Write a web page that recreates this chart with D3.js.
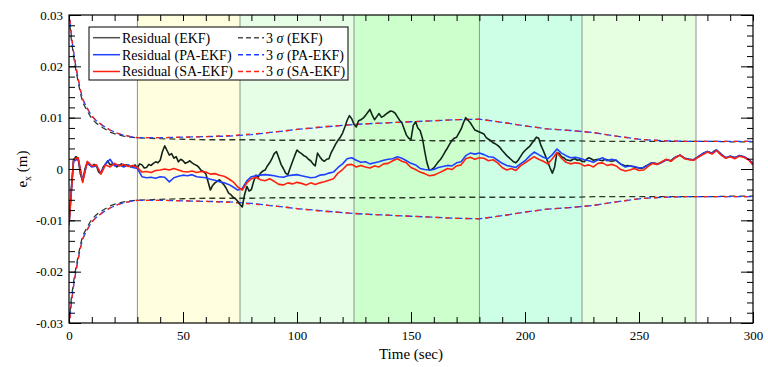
<!DOCTYPE html>
<html>
<head>
<meta charset="utf-8">
<script src="https://cdn.jsdelivr.net/npm/d3@7"></script>
<style>
  html, body { margin: 0; padding: 0; background: #ffffff; }
  svg { display: block; }
  svg text { font-family: "Liberation Serif", "Times New Roman", Times, serif !important; fill: #000; }
</style>
</head>
<body>
<svg id="chart" width="768" height="367"></svg>
<script>
// ---------------- DATA ----------------
const time = d3.range(0, 301, 2);     // seconds, 2 s sampling (adaptive filters)
const timeEKF = d3.range(0, 301, 1);  // seconds, 1 s sampling (EKF)

const residEKF = [
  -0.0108, -0.0040, 0.0017, 0.0024, 0.0021, -0.0010, -0.0024, 0.0000, 0.0013, 0.0008,
  0.0005, 0.0009, 0.0007, -0.0006, -0.0009, 0.0004, 0.0009, 0.0016, 0.0008, 0.0010,
  0.0009, 0.0004, 0.0007, 0.0010, 0.0006, 0.0008, 0.0007, 0.0004, 0.0005, 0.0008,
  0.0002, 0.0010, 0.0008, 0.0002, 0.0003, 0.0009, 0.0007, 0.0011, 0.0014, 0.0012,
  0.0017, 0.0034, 0.0045, 0.0036, 0.0027, 0.0030, 0.0021, 0.0024, 0.0014, 0.0019,
  0.0016, 0.0011, 0.0013, 0.0016, 0.0012, 0.0009, 0.0007, 0.0003, -0.0003, -0.0005,
  -0.0009, -0.0025, -0.0041, -0.0032, -0.0027, -0.0024, -0.0021, -0.0026, -0.0031, -0.0038,
  -0.0047, -0.0050, -0.0055, -0.0058, -0.0063, -0.0069, -0.0074, -0.0050, -0.0034, -0.0043,
  -0.0040, -0.0024, -0.0012, -0.0016, -0.0008, -0.0004, -0.0002, 0.0006, 0.0012, 0.0020,
  0.0030, 0.0034, 0.0022, 0.0009, 0.0001, -0.0008, -0.0011, 0.0002, 0.0014, 0.0026,
  0.0037, 0.0033, 0.0030, 0.0026, 0.0024, 0.0019, 0.0016, 0.0010, 0.0006, 0.0031,
  0.0024, 0.0018, 0.0015, 0.0019, 0.0020, 0.0032, 0.0040, 0.0049, 0.0056, 0.0062,
  0.0070, 0.0082, 0.0095, 0.0104, 0.0098, 0.0087, 0.0082, 0.0094, 0.0096, 0.0099,
  0.0104, 0.0110, 0.0116, 0.0105, 0.0096, 0.0102, 0.0108, 0.0101, 0.0103, 0.0107,
  0.0110, 0.0113, 0.0112, 0.0109, 0.0102, 0.0095, 0.0090, 0.0078, 0.0066, 0.0060,
  0.0058, 0.0085, 0.0092, 0.0080, 0.0075, 0.0060, 0.0035, 0.0012, -0.0002, -0.0001,
  0.0002, 0.0008, 0.0014, 0.0019, 0.0026, 0.0034, 0.0041, 0.0049, 0.0056, 0.0060,
  0.0062, 0.0070, 0.0078, 0.0090, 0.0100, 0.0095, 0.0090, 0.0083, 0.0076, 0.0074,
  0.0072, 0.0070, 0.0068, 0.0061, 0.0058, 0.0055, 0.0051, 0.0049, 0.0046, 0.0042,
  0.0036, 0.0031, 0.0026, 0.0022, 0.0018, 0.0014, 0.0012, 0.0017, 0.0024, 0.0031,
  0.0036, 0.0040, 0.0044, 0.0050, 0.0056, 0.0062, 0.0060, 0.0046, 0.0036, 0.0025,
  0.0014, 0.0002, -0.0008, 0.0004, 0.0032, 0.0030, 0.0024, 0.0022, 0.0018, 0.0017,
  0.0016, 0.0019, 0.0020, 0.0017, 0.0018, 0.0015, 0.0014, 0.0019, 0.0022, 0.0020,
  0.0017, 0.0018, 0.0019, 0.0017, 0.0016, 0.0019, 0.0018, 0.0016, 0.0015, 0.0016,
  0.0017, 0.0013, 0.0010, 0.0008, 0.0006, 0.0007, 0.0006, 0.0005, 0.0004, 0.0003,
  0.0002, 0.0001, 0.0003, 0.0006, 0.0008, 0.0011, 0.0012, 0.0011, 0.0010, 0.0011,
  0.0013, 0.0016, 0.0018, 0.0017, 0.0016, 0.0020, 0.0023, 0.0025, 0.0027, 0.0024,
  0.0021, 0.0020, 0.0019, 0.0018, 0.0018, 0.0021, 0.0024, 0.0027, 0.0030, 0.0032,
  0.0034, 0.0032, 0.0031, 0.0035, 0.0037, 0.0033, 0.0029, 0.0025, 0.0022, 0.0023,
  0.0025, 0.0024, 0.0022, 0.0024, 0.0026, 0.0025, 0.0024, 0.0021, 0.0019, 0.0015,
  0.0010
];

const residPA = [
  -0.0105, 0.0015, 0.0020, -0.0022, 0.0012, 0.0004, 0.0006, -0.0008, 0.0010, 0.0019, 0.0006, 0.0008, 0.0004, 0.0008, 0.0003, 0.0001,
  -0.0015, -0.0017, -0.0016, -0.0018, -0.0015, -0.0016, -0.0025, -0.0017, -0.0014, -0.0012,
  -0.0013, -0.0011, -0.0015, -0.0016, -0.0017, -0.0020, -0.0022, -0.0025, -0.0027, -0.0030,
  -0.0035, -0.0041, -0.0038, -0.0023, -0.0015, -0.0013, -0.0012, -0.0011, -0.0012, -0.0013,
  -0.0015, -0.0016, -0.0013, -0.0012, -0.0011, -0.0013, -0.0015, -0.0017, -0.0016, -0.0012,
  -0.0011, -0.0008, -0.0006, 0.0003, 0.0010, 0.0020, 0.0022, 0.0017, 0.0013, 0.0014,
  0.0010, 0.0012, 0.0014, 0.0017, 0.0019, 0.0020, 0.0024, 0.0021, 0.0016, 0.0011,
  0.0008, 0.0001, -0.0001, -0.0002, -0.0001, 0.0003, 0.0005, 0.0007, 0.0006, 0.0012,
  0.0014, 0.0026, 0.0031, 0.0029, 0.0031, 0.0028, 0.0024, 0.0023, 0.0017, 0.0011,
  0.0007, 0.0005, 0.0003, 0.0010, 0.0016, 0.0025, 0.0033, 0.0028, 0.0023, 0.0020,
  0.0028, 0.0039, 0.0031, 0.0026, 0.0022, 0.0023, 0.0021, 0.0018, 0.0016, 0.0013,
  0.0018, 0.0022, 0.0016, 0.0019, 0.0017, 0.0009, 0.0004, 0.0006, 0.0005, 0.0002,
  0.0003, 0.0008, 0.0012, 0.0009, 0.0013, 0.0018, 0.0016, 0.0023, 0.0027, 0.0021,
  0.0019, 0.0018, 0.0024, 0.0030, 0.0034, 0.0031, 0.0037, 0.0029, 0.0022, 0.0025,
  0.0022, 0.0026, 0.0024, 0.0019, 0.0010
];

const residSA = [
  -0.0110, 0.0019, 0.0022, -0.0026, 0.0015, 0.0006, 0.0008, -0.0010, 0.0008, 0.0004, 0.0011, 0.0006, 0.0009, 0.0005, 0.0007, 0.0003,
  -0.0006, -0.0005, -0.0007, -0.0003, -0.0002, 0.0000, -0.0002, 0.0001, -0.0002, -0.0005,
  -0.0006, -0.0004, -0.0007, -0.0005, -0.0006, -0.0010, -0.0009, -0.0012, -0.0014, -0.0019,
  -0.0025, -0.0035, -0.0041, -0.0027, -0.0019, -0.0016, -0.0021, -0.0023, -0.0019, -0.0024,
  -0.0030, -0.0031, -0.0027, -0.0029, -0.0026, -0.0028, -0.0031, -0.0027, -0.0030, -0.0027,
  -0.0025, -0.0022, -0.0019, -0.0008, -0.0001, 0.0008, 0.0009, 0.0004, 0.0007, 0.0004,
  0.0002, 0.0006, 0.0004, 0.0010, 0.0011, 0.0016, 0.0020, 0.0015, 0.0012, 0.0003,
  -0.0001, -0.0006, -0.0009, -0.0013, -0.0012, -0.0008, -0.0004, 0.0001, -0.0001, 0.0006,
  0.0008, 0.0020, 0.0023, 0.0019, 0.0022, 0.0021, 0.0016, 0.0018, 0.0012, 0.0003,
  -0.0002, 0.0001, -0.0003, 0.0006, 0.0012, 0.0018, 0.0024, 0.0019, 0.0015, 0.0010,
  0.0020, 0.0032, 0.0021, 0.0013, 0.0010, 0.0012, 0.0011, 0.0006, 0.0008, 0.0004,
  0.0011, 0.0012, 0.0007, 0.0009, 0.0006, -0.0001, -0.0004, -0.0002, 0.0001, -0.0003,
  -0.0002, 0.0005, 0.0011, 0.0009, 0.0014, 0.0019, 0.0015, 0.0022, 0.0027, 0.0020,
  0.0018, 0.0017, 0.0023, 0.0028, 0.0033, 0.0029, 0.0036, 0.0027, 0.0021, 0.0024,
  0.0020, 0.0025, 0.0023, 0.0018, 0.0008
];

const sigmaTime = [0, 1, 2, 3, 4, 5, 6, 8, 10, 12, 15, 18, 21, 24, 27, 30,
  40, 50, 60, 70, 80, 90, 100, 110, 120, 130, 140, 150, 160, 170, 180, 190, 200,
  210, 220, 230, 240, 250, 260, 270, 280, 290, 300];

const sigmaEKF = [0.0300, 0.0253, 0.0220, 0.0193, 0.0170, 0.0148, 0.0130, 0.0113, 0.0098, 0.0089, 0.0080, 0.0072, 0.0067, 0.0064, 0.0062, 0.0061,
  0.0059, 0.0058, 0.0057, 0.0057, 0.0057, 0.0056, 0.0056, 0.0056, 0.0056, 0.0056, 0.0056, 0.0056, 0.0055, 0.0055, 0.0055, 0.0055, 0.0055,
  0.0055, 0.0055, 0.0054, 0.0054, 0.0054, 0.0054, 0.0054, 0.0054, 0.0053, 0.0053];

const sigmaPA = [0.0310, 0.0262, 0.0228, 0.0200, 0.0176, 0.0154, 0.0136, 0.0118, 0.0103, 0.0094, 0.0084, 0.0076, 0.0070, 0.0066, 0.0063, 0.0061,
  0.0061, 0.0062, 0.0063, 0.0064, 0.0067, 0.0072, 0.0077, 0.0081, 0.0085, 0.0088, 0.0090, 0.0092, 0.0094, 0.0096, 0.0097, 0.0091, 0.0084,
  0.0078, 0.0075, 0.0071, 0.0064, 0.0058, 0.0055, 0.0054, 0.0054, 0.0054, 0.0054];

const sigmaSA = [0.0310, 0.0262, 0.0228, 0.0200, 0.0176, 0.0154, 0.0136, 0.0118, 0.0103, 0.0094, 0.0084, 0.0076, 0.0070, 0.0066, 0.0063, 0.0061,
  0.0061, 0.0062, 0.0063, 0.0065, 0.0068, 0.0072, 0.0077, 0.0082, 0.0085, 0.0088, 0.0090, 0.0092, 0.0094, 0.0096, 0.0097, 0.0091, 0.0084,
  0.0078, 0.0075, 0.0071, 0.0064, 0.0058, 0.0055, 0.0054, 0.0054, 0.0054, 0.0054];

const phaseStart = [30, 75, 125, 180, 225];
const phaseEnd   = [75, 125, 180, 225, 275];
const phaseFill  = ["#ffffe0", "#e6fde6", "#ccffcc", "#ccffe6", "#e6ffe0"];
const phaseLines = [30, 75, 125, 180, 225, 275];

const xMajorTicks = [0, 50, 100, 150, 200, 250, 300];
const yMajorTicks = [-0.03, -0.02, -0.01, 0, 0.01, 0.02, 0.03];

const legendSolid = ["Residual (EKF)", "Residual (PA-EKF)", "Residual (SA-EKF)"];
const legendDashed = ["(EKF)", "(PA-EKF)", "(SA-EKF)"];

// ---------------- LAYOUT ----------------
const W = 768, H = 367;
const m = { left: 69, right: 15, top: 15, bottom: 44 };
const FONT = "'Liberation Serif', 'Times New Roman', Times, serif";
const svg = d3.select("#chart");

const x = d3.scaleLinear().domain([0, 300]).range([m.left, W - m.right]);
const y = d3.scaleLinear().domain([-0.03, 0.03]).range([H - m.bottom, m.top]);

const colEKF = "#13241a", colPA = "#2040ff", colSA = "#ff2010";

svg.append("defs").append("clipPath").attr("id", "plotclip")
  .append("rect")
  .attr("x", m.left).attr("y", m.top)
  .attr("width", W - m.left - m.right).attr("height", H - m.top - m.bottom);

// shaded phases
svg.append("g").selectAll("rect").data(phaseStart).join("rect")
  .attr("x", d => x(d))
  .attr("width", (d, i) => x(phaseEnd[i]) - x(d))
  .attr("y", m.top).attr("height", H - m.top - m.bottom)
  .attr("fill", (d, i) => phaseFill[i]);

svg.append("g").selectAll("line").data(phaseLines).join("line")
  .attr("x1", d => x(d)).attr("x2", d => x(d))
  .attr("y1", m.top).attr("y2", H - m.bottom)
  .attr("stroke", "#8a948a").attr("stroke-width", 1);

const plot = svg.append("g").attr("clip-path", "url(#plotclip)");

// sigma bounds
function sigmaLine(arr, sign) {
  return d3.line().x((d, i) => x(sigmaTime[i])).y((d, i) => y(sign * arr[i]))(arr);
}
[1, -1].forEach(s => {
  plot.append("path").attr("d", sigmaLine(sigmaEKF, s))
    .attr("fill", "none").attr("stroke", "#2b3a2b").attr("stroke-width", 1.3)
    .attr("stroke-dasharray", "6,4");
  plot.append("path").attr("d", sigmaLine(sigmaPA, s))
    .attr("fill", "none").attr("stroke", colPA).attr("stroke-width", 1.3)
    .attr("stroke-dasharray", "7,3");
  plot.append("path").attr("d", sigmaLine(sigmaSA, s))
    .attr("fill", "none").attr("stroke", colSA).attr("stroke-width", 1.3)
    .attr("stroke-dasharray", "4,6");
});

// residuals
function resLine(arr, t) {
  return d3.line().x((d, i) => x(t[i])).y(d => y(d))(arr);
}
plot.append("path").attr("d", resLine(residEKF, timeEKF))
  .attr("fill", "none").attr("stroke", colEKF).attr("stroke-width", 1.6).attr("stroke-linejoin", "round");
plot.append("path").attr("d", resLine(residPA, time))
  .attr("fill", "none").attr("stroke", colPA).attr("stroke-width", 1.6).attr("stroke-linejoin", "round");
plot.append("path").attr("d", resLine(residSA, time))
  .attr("fill", "none").attr("stroke", colSA).attr("stroke-width", 1.6).attr("stroke-linejoin", "round");

// ---------------- AXES ----------------
const yFmt = d => (Math.abs(d) < 1e-9 ? "0" : d.toFixed(2));

function styleAxis(g) {
  g.attr("font-family", null).attr("font-size", null);
  g.select(".domain").remove();
  g.selectAll(".tick line").attr("stroke", "#000").attr("stroke-width", 1);
  g.selectAll("text").style("font-family", FONT).style("font-size", "13px").attr("fill", "#000");
}

// left
svg.append("g").attr("transform", `translate(${m.left},0)`)
  .call(d3.axisLeft(y).tickValues(yMajorTicks).tickFormat(yFmt).tickSize(-12).tickSizeOuter(0).tickPadding(6))
  .call(styleAxis);
svg.append("g").attr("transform", `translate(${m.left},0)`)
  .call(d3.axisLeft(y).ticks(30).tickFormat("").tickSize(-6).tickSizeOuter(0))
  .call(styleAxis);
// right
svg.append("g").attr("transform", `translate(${W - m.right},0)`)
  .call(d3.axisRight(y).tickValues(yMajorTicks).tickFormat("").tickSize(-12).tickSizeOuter(0))
  .call(styleAxis);
svg.append("g").attr("transform", `translate(${W - m.right},0)`)
  .call(d3.axisRight(y).ticks(30).tickFormat("").tickSize(-6).tickSizeOuter(0))
  .call(styleAxis);
// bottom
svg.append("g").attr("transform", `translate(0,${H - m.bottom})`)
  .call(d3.axisBottom(x).tickValues(xMajorTicks).tickSize(-11).tickSizeOuter(0).tickPadding(8))
  .call(styleAxis);
svg.append("g").attr("transform", `translate(0,${H - m.bottom})`)
  .call(d3.axisBottom(x).ticks(30).tickFormat("").tickSize(-6).tickSizeOuter(0))
  .call(styleAxis);
// top
svg.append("g").attr("transform", `translate(0,${m.top})`)
  .call(d3.axisTop(x).ticks(30).tickFormat("").tickSize(-6).tickSizeOuter(0))
  .call(styleAxis);

// frame
svg.append("rect")
  .attr("x", m.left).attr("y", m.top)
  .attr("width", W - m.left - m.right).attr("height", H - m.top - m.bottom)
  .attr("fill", "none").attr("stroke", "#000").attr("stroke-width", 1.2);

// axis titles
svg.append("text")
  .attr("x", x(150)).attr("y", 359)
  .attr("text-anchor", "middle").style("font-family", FONT).style("font-size", "15px")
  .text("Time (sec)");

const yt = svg.append("text")
  .attr("transform", `translate(27,${y(0)}) rotate(-90)`)
  .attr("text-anchor", "middle").style("font-family", FONT).style("font-size", "15px");
yt.append("tspan").text("e");
yt.append("tspan").style("font-size", "10px").attr("dy", 4).text("x");
yt.append("tspan").attr("dy", -4).text(" (m)");

// ---------------- LEGEND ----------------
const lg = svg.append("g");
lg.append("rect").attr("x", 89).attr("y", 27).attr("width", 259).attr("height", 53)
  .attr("fill", "#fff").attr("stroke", "#000").attr("stroke-width", 1);

const rowY = [37.7, 54.7, 71.5];
const cols = [colEKF, colPA, colSA];
legendSolid.forEach((t, i) => {
  lg.append("line").attr("x1", 93).attr("x2", 120).attr("y1", rowY[i]).attr("y2", rowY[i])
    .attr("stroke", i === 0 ? "#505050" : cols[i]).attr("stroke-width", 1.5);
  lg.append("text").attr("x", 122).attr("y", rowY[i]).attr("dy", "0.35em")
    .style("font-family", FONT).style("font-size", "14px").text(t);
});
legendDashed.forEach((t, i) => {
  lg.append("line").attr("x1", 238).attr("x2", 264).attr("y1", rowY[i]).attr("y2", rowY[i])
    .attr("stroke", i === 0 ? "#505050" : cols[i]).attr("stroke-width", 1.5)
    .attr("stroke-dasharray", "5,3");
  const tx = lg.append("text").attr("x", 266).attr("y", rowY[i]).attr("dy", "0.35em")
    .style("font-family", FONT).style("font-size", "14px");
  tx.append("tspan").text("3 ");
  tx.append("tspan").style("font-style", "italic").text("σ");
  tx.append("tspan").text(" " + t);
});
</script>
</body>
</html>
